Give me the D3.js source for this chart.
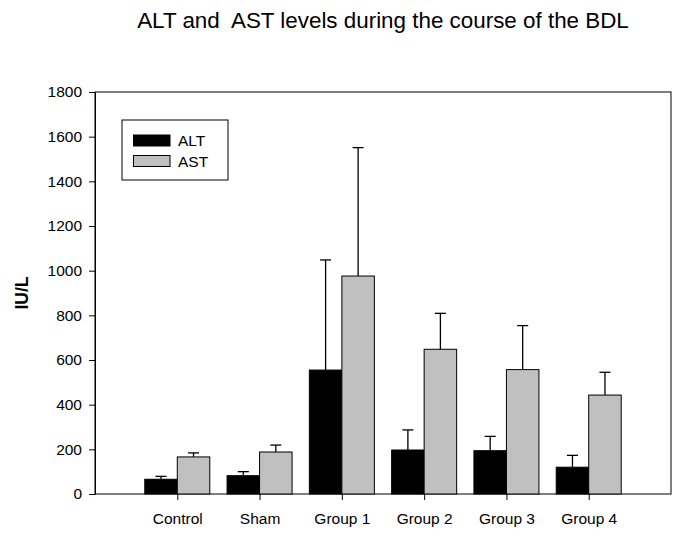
<!DOCTYPE html>
<html><head><meta charset="utf-8">
<script src="https://cdn.jsdelivr.net/npm/d3@7"></script>
<style>body{margin:0;background:#fff}svg{display:block;font-family:"Liberation Sans",Arial,sans-serif}</style>
</head><body>
<svg id="c" width="685" height="538"></svg>
<script>
const categories = ["Control","Sham","Group 1","Group 2","Group 3","Group 4"];
const altValues = [66, 82, 555, 197, 194, 120];
const altErrors = [13, 18, 493, 90, 64, 53];
const astValues = [166, 188, 976, 648, 557, 443];
const astErrors = [18, 31, 575, 161, 197, 102];
const yTicks = [0,200,400,600,800,1000,1200,1400,1600,1800];
const seriesNames = ["ALT","AST"];
const seriesColors = ["#000000","#c0c0c0"];

const svg = d3.select("#c");
const L=95, R=671, T=92, B=494;
const x = d3.scaleLinear().domain([0, categories.length+1]).range([L,R]);
const y = d3.scaleLinear().domain([0,1800]).range([B,T]);
const barW = (x(1)-x(0))*0.395;

// frame
svg.append("rect").attr("x",L).attr("y",T).attr("width",R-L).attr("height",B-T)
  .attr("fill","none").attr("stroke","#000").attr("stroke-width",1);

// y axis
const ya = svg.append("g").attr("transform",`translate(${L},0)`)
  .call(d3.axisLeft(y).tickValues(yTicks).tickSize(6).tickPadding(7).tickFormat(d3.format("d")));
ya.select(".domain").attr("stroke","#000");
ya.selectAll("text").attr("font-size","15.5px").attr("font-family","Liberation Sans, Arial, sans-serif").attr("fill","#000");

// x axis
const xa = svg.append("g").attr("transform",`translate(0,${B})`)
  .call(d3.axisBottom(x).tickValues(categories.map((c,i)=>i+1)).tickSize(6).tickPadding(13)
    .tickFormat((d)=>categories[d-1]));
xa.select(".domain").remove();
xa.selectAll("text").attr("font-size","15.5px").attr("font-family","Liberation Sans, Arial, sans-serif").attr("fill","#000");

const series = [
  {vals:altValues, errs:altErrors, off:-1},
  {vals:astValues, errs:astErrors, off:0}
];
const capW = 11;
series.forEach((s,si)=>{
  const g = svg.append("g");
  categories.forEach((c,i)=>{
    const x0 = x(i+1) + s.off*barW;
    const cx = x0 + barW/2;
    g.append("line").attr("x1",cx).attr("x2",cx).attr("y1",y(s.vals[i])).attr("y2",y(s.vals[i]+s.errs[i]))
      .attr("stroke","#000").attr("stroke-width",1.3);
    g.append("line").attr("x1",cx-capW/2).attr("x2",cx+capW/2).attr("y1",y(s.vals[i]+s.errs[i])).attr("y2",y(s.vals[i]+s.errs[i]))
      .attr("stroke","#000").attr("stroke-width",1.3);
    g.append("rect").attr("x",x0).attr("y",y(s.vals[i])).attr("width",barW).attr("height",y(0)-y(s.vals[i]))
      .attr("fill",seriesColors[si]).attr("stroke","#000").attr("stroke-width",1);
  });
});

// legend
const lg = svg.append("g");
lg.append("rect").attr("x",122).attr("y",120).attr("width",106).attr("height",60)
  .attr("fill","#fff").attr("stroke","#000").attr("stroke-width",1);
seriesNames.forEach((n,i)=>{
  const yy = 135 + i*20.5;
  lg.append("rect").attr("x",133.5).attr("y",yy).attr("width",36.5).attr("height",11)
    .attr("fill",seriesColors[i]).attr("stroke","#000").attr("stroke-width",1);
  lg.append("text").attr("x",178).attr("y",yy+11).attr("font-size","15.5px").text(n);
});

// title
svg.append("text").attr("x",383).attr("y",28).attr("text-anchor","middle")
  .attr("font-size","22.4px").style("white-space","pre")
  .text("ALT and  AST levels during the course of the BDL");

// y label
svg.append("text").attr("transform","translate(28,293) rotate(-90)").attr("text-anchor","middle")
  .attr("font-size","17.5px").attr("font-weight","bold").text("IU/L");
</script>
</body></html>
